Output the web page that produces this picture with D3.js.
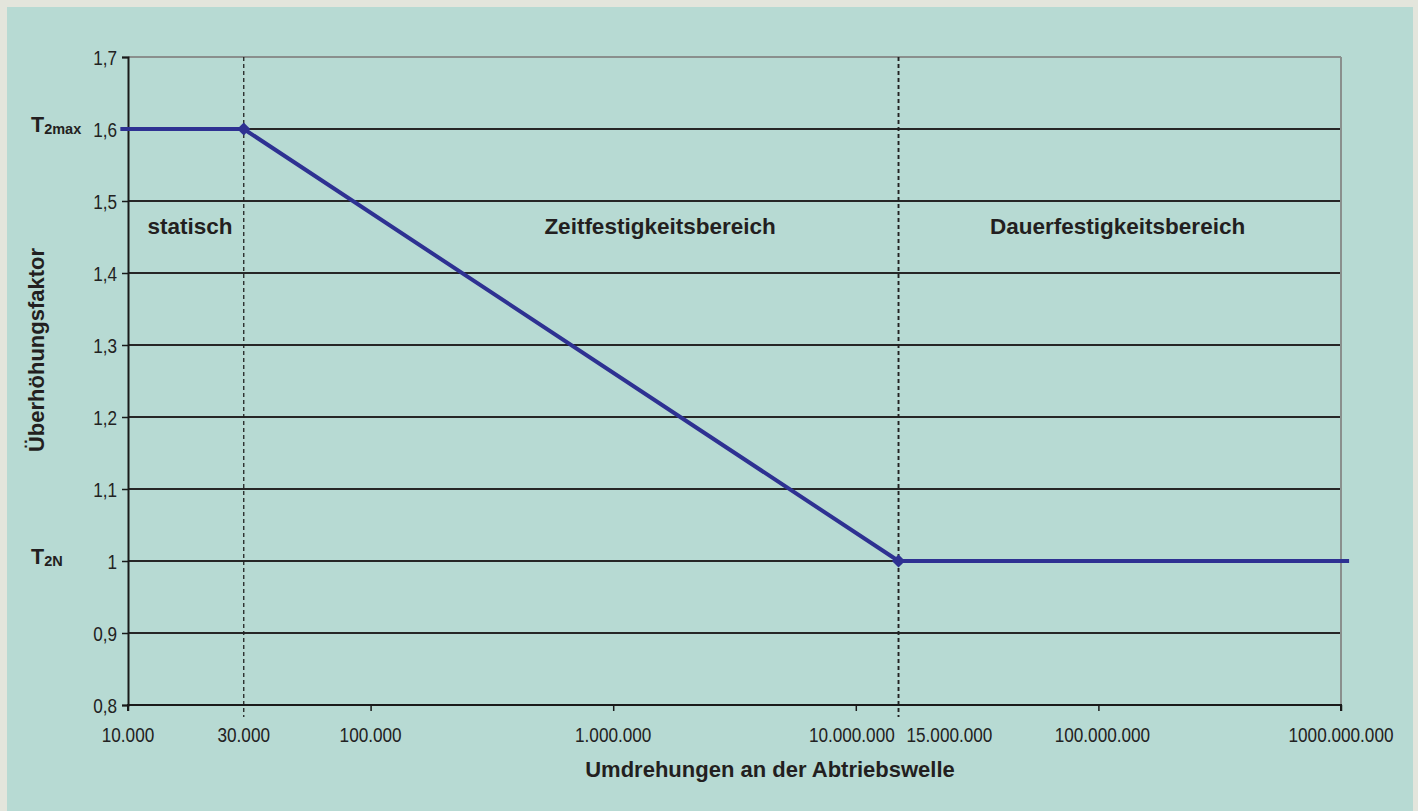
<!DOCTYPE html>
<html><head><meta charset="utf-8">
<script src="https://cdn.jsdelivr.net/npm/d3@7"></script>
<style>
html,body{margin:0;padding:0;background:#e3e5dc;}
svg{display:block;}
</style></head>
<body>
<svg id="c" width="1418" height="811"></svg>
<script>
// ---- data ----
const curveX = [9300, 30000, 15000000, 1080000000];
const curveY = [1.6, 1.6, 1.0, 1.0];
const markerX = [30000, 15000000];
const markerY = [1.6, 1.0];
const dashedX = [30000, 15000000];
const yTicks = [0.8, 0.9, 1.0, 1.1, 1.2, 1.3, 1.4, 1.5, 1.6, 1.7];
const xTickMarks = [1e4, 1e5, 1e6, 1e7, 1e8, 1e9];
const xLabelValues = [1e4, 3e4, 1e5, 1e6, 1e7, 1.5e7, 1e8, 1e9];
const xLabelTexts = ["10.000","30.000","100.000","1.000.000","10.000.000","15.000.000","100.000.000","1000.000.000"];
const regionLabels = ["statisch","Zeitfestigkeitsbereich","Dauerfestigkeitsbereich"];
const regionCenters = [1.8e4, 1.56e6, 1.2e8];
const yTitle = "Überhöhungsfaktor";
const xTitle = "Umdrehungen an der Abtriebswelle";

const svg = d3.select("#c");
const W = 1418, H = 811;
const m = {l:128, r:1341, t:57, b:705};
const numFont = "'Liberation Sans',Arial,Helvetica,sans-serif";
const bold = "'Liberation Sans',Arial,Helvetica,sans-serif";
const SX = 0.88; // horizontal condensing of number labels

svg.append("rect").attr("x",0).attr("y",0).attr("width",W).attr("height",H).attr("fill","#e3e5dc");
svg.append("rect").attr("x",7).attr("y",7).attr("width",1406).attr("height",H-7).attr("fill","#b7dad3");

const x = d3.scaleLog().domain([1e4,1e9]).range([m.l,m.r]);
const y = d3.scaleLinear().domain([0.8,1.7]).range([m.b,m.t]);

// gridlines
svg.append("g").selectAll("line").data(yTicks.filter(v=>v>0.8)).join("line")
  .attr("x1",m.l).attr("x2",m.r).attr("y1",d=>y(d)).attr("y2",d=>y(d))
  .attr("stroke",d=>d>=1.7?"#8a8f8d":"#262626").attr("stroke-width",d=>d>=1.7?2.2:1.8);
// right border
svg.append("line").attr("x1",m.r).attr("x2",m.r).attr("y1",m.t).attr("y2",m.b)
  .attr("stroke","#8a8f8d").attr("stroke-width",2);

// dashed verticals
svg.append("g").selectAll("line").data(dashedX).join("line")
  .attr("x1",d=>x(d)).attr("x2",d=>x(d)).attr("y1",m.t).attr("y2",m.b+12)
  .attr("stroke","#222").attr("stroke-width",d=>d>1e6?1.9:1.3)
  .attr("stroke-dasharray","4,3");

// y axis
const yAxis = d3.axisLeft(y).tickValues(yTicks).tickSize(6).tickPadding(5)
  .tickFormat(d=> d===1 ? "1" : d3.format(".1f")(d).replace(".",","));
const gy = svg.append("g").attr("transform",`translate(${m.l},0)`).call(yAxis);
gy.select(".domain").attr("stroke","#1a1a1a").attr("stroke-width",2);
gy.selectAll(".tick line").attr("stroke","#1a1a1a").attr("stroke-width",1.5);
gy.selectAll(".tick text").attr("font-family",numFont).attr("font-size",19.5).attr("fill","#222")
  .attr("dy","0.36em").attr("x",-11/SX).attr("transform",`scale(${SX},1)`);

// x axis
const xAxis = d3.axisBottom(x).tickValues(xTickMarks).tickSize(6).tickFormat("");
const gx = svg.append("g").attr("transform",`translate(0,${m.b})`).call(xAxis);
gx.select(".domain").attr("stroke","#1a1a1a").attr("stroke-width",2).attr("d",`M${m.l},6V0H${m.r}V6`);
gx.selectAll(".tick line").attr("stroke","#1a1a1a").attr("stroke-width",1.5);

// x labels
svg.append("g").selectAll("text").data(xLabelValues).join("text")
  .attr("transform",(d,i)=>{
    const t = xLabelTexts[i];
    let px = x(d);
    if (t==="10.000.000") px -= 4;
    if (t==="15.000.000") px += 8;
    if (t==="100.000.000") px += 4;
    return `translate(${px},742) scale(${SX},1)`;
  })
  .attr("text-anchor",(d,i)=> xLabelTexts[i]==="15.000.000" ? "start" : "middle")
  .attr("font-family",numFont).attr("font-size",19.5).attr("fill","#222")
  .text((d,i)=>xLabelTexts[i]);

// curve
const line = d3.line().x(d=>x(d[0])).y(d=>y(d[1]));
svg.append("path").datum(curveX.map((v,i)=>[v,curveY[i]]))
  .attr("d",line).attr("fill","none").attr("stroke","#2e3192").attr("stroke-width",4)
  .attr("stroke-linejoin","round");
svg.append("g").selectAll("path").data(markerX).join("path")
  .attr("transform",(d,i)=>`translate(${x(d)},${y(markerY[i])})`)
  .attr("d",d3.symbol(d3.symbolDiamond2 ? d3.symbolDiamond2 : d3.symbolDiamond, 110)())
  .attr("fill","#2e3192");

// region labels
svg.append("g").selectAll("text").data(regionLabels).join("text")
  .attr("x",(d,i)=>x(regionCenters[i])).attr("y",234)
  .attr("text-anchor","middle").attr("font-family",bold).attr("font-weight","bold")
  .attr("font-size",22.5).attr("fill","#231f20").text(d=>d);

// T2max / T2N
const t1 = svg.append("text").attr("x",31).attr("y",y(1.6)+3).attr("font-family",bold).attr("font-weight","bold").attr("fill","#231f20");
t1.append("tspan").attr("font-size",21.5).text("T");
t1.append("tspan").attr("font-size",14.5).attr("dy",2).text("2max");
const t2 = svg.append("text").attr("x",31).attr("y",y(1.0)+3).attr("font-family",bold).attr("font-weight","bold").attr("fill","#231f20");
t2.append("tspan").attr("font-size",21.5).text("T");
t2.append("tspan").attr("font-size",14.5).attr("dy",2).text("2N");

// axis titles
svg.append("text").attr("transform",`translate(44,350) rotate(-90)`)
  .attr("text-anchor","middle").attr("font-family",bold).attr("font-weight","bold")
  .attr("font-size",22).attr("fill","#231f20").text(yTitle);
svg.append("text").attr("x",770).attr("y",777)
  .attr("text-anchor","middle").attr("font-family",bold).attr("font-weight","bold")
  .attr("font-size",22).attr("fill","#231f20").text(xTitle);
</script>
</body></html>
